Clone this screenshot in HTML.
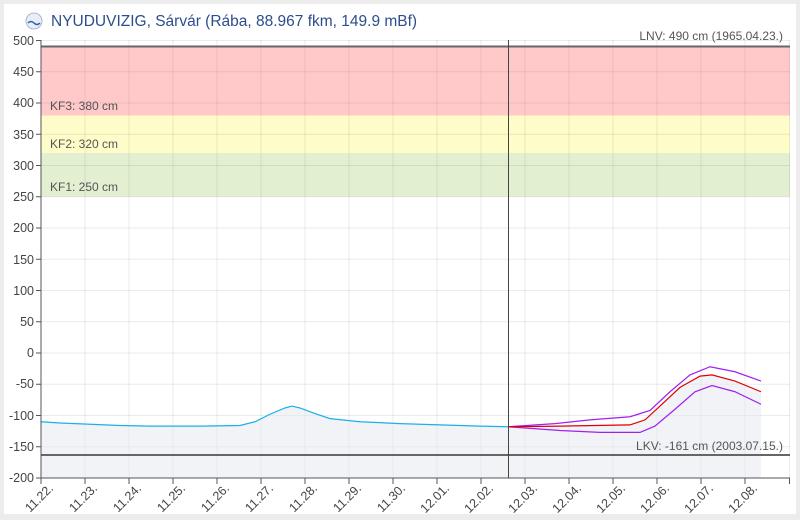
<!DOCTYPE html>
<html><head><style>
body{margin:0;background:#ececec;}
svg{display:block;font-family:"Liberation Sans",sans-serif;}
</style></head><body>
<svg width="800" height="520" xmlns="http://www.w3.org/2000/svg">
<rect x="0" y="0" width="800" height="520" fill="#ececec"/>
<rect x="4" y="4" width="792" height="510" fill="#fff"/>
<circle cx="34" cy="21" r="8" fill="#e8eef8" stroke="#9ab" stroke-width="0.8"/>
<path d="M28 23 q3 -3 6 0 q3 3 6 0" stroke="#2b5fa8" fill="none" stroke-width="1.5"/>
<text x="51" y="26" font-size="15.5" fill="#2d4d8e">NYUDUVIZIG, Sárvár (Rába, 88.967 fkm, 149.9 mBf)</text>
<rect x="41" y="46.8" width="749" height="68.7" fill="#ffc9c9"/>
<rect x="41" y="115.5" width="749" height="37.5" fill="#fefcc8"/>
<rect x="41" y="153" width="749" height="43.7" fill="#e2efd1"/>
<g stroke="#000" stroke-opacity="0.08" stroke-width="1">
<line x1="41" x2="790" y1="40.5" y2="40.5"/><line x1="41" x2="790" y1="71.75" y2="71.75"/><line x1="41" x2="790" y1="103" y2="103"/><line x1="41" x2="790" y1="134.25" y2="134.25"/><line x1="41" x2="790" y1="165.5" y2="165.5"/><line x1="41" x2="790" y1="196.75" y2="196.75"/><line x1="41" x2="790" y1="228" y2="228"/><line x1="41" x2="790" y1="259.25" y2="259.25"/><line x1="41" x2="790" y1="290.5" y2="290.5"/><line x1="41" x2="790" y1="321.75" y2="321.75"/><line x1="41" x2="790" y1="353" y2="353"/><line x1="41" x2="790" y1="384.25" y2="384.25"/><line x1="41" x2="790" y1="415.5" y2="415.5"/><line x1="41" x2="790" y1="446.75" y2="446.75"/>
<line y1="40" y2="478" x1="85" x2="85"/><line y1="40" y2="478" x1="129" x2="129"/><line y1="40" y2="478" x1="173" x2="173"/><line y1="40" y2="478" x1="217" x2="217"/><line y1="40" y2="478" x1="261" x2="261"/><line y1="40" y2="478" x1="305" x2="305"/><line y1="40" y2="478" x1="349" x2="349"/><line y1="40" y2="478" x1="393" x2="393"/><line y1="40" y2="478" x1="437" x2="437"/><line y1="40" y2="478" x1="481" x2="481"/><line y1="40" y2="478" x1="525" x2="525"/><line y1="40" y2="478" x1="569" x2="569"/><line y1="40" y2="478" x1="613" x2="613"/><line y1="40" y2="478" x1="657" x2="657"/><line y1="40" y2="478" x1="701" x2="701"/><line y1="40" y2="478" x1="745" x2="745"/><line y1="40" y2="478" x1="789.5" x2="789.5"/>
</g>
<path d="M41 421.75 L60 423 L90 424.25 L120 425.5 L150 426.1 L200 426.1 L240 425.5 L255 421.75 L270 414.25 L285 408 L292 406.1 L300 408 L315 413.6 L330 418.6 L360 421.75 L400 423.6 L440 424.9 L480 426.1 L508 426.75 L560 426.1 L630 424.9 L645 419.9 L660 406.1 L680 387.4 L700 376.1 L712 374.9 L735 381.1 L761 391.75 L761 478 L41 478 Z" fill="#e4e7f0" fill-opacity="0.5"/>
<polyline fill="none" stroke="#1ab0e8" stroke-width="1.2" points="41,421.75 60,423 90,424.25 120,425.5 150,426.1 200,426.1 240,425.5 255,421.75 270,414.25 285,408 292,406.1 300,408 315,413.6 330,418.6 360,421.75 400,423.6 440,424.9 480,426.1 508,426.75"/>
<polyline fill="none" stroke="#a020f0" stroke-width="1.2" points="508,426.75 555,423.6 590,419.9 630,416.75 650,410.5 670,391.75 690,374.9 710,366.75 735,371.75 761,381.1"/>
<polyline fill="none" stroke="#a020f0" stroke-width="1.2" points="508,426.75 560,430.5 600,432.4 640,432.4 655,426.1 675,409.25 695,391.75 712,385.5 735,391.75 761,404.25"/>
<polyline fill="none" stroke="#e00000" stroke-width="1.2" points="508,426.75 560,426.1 630,424.9 645,419.9 660,406.1 680,387.4 700,376.1 712,374.9 735,381.1 761,391.75"/>
<line x1="41" x2="790" y1="46.5" y2="46.5" stroke="#666" stroke-width="2"/>
<line x1="41" x2="790" y1="455" y2="455" stroke="#666" stroke-width="2"/>
<line x1="508.5" x2="508.5" y1="40" y2="478" stroke="#444" stroke-width="1"/>
<g font-size="12" fill="#555">
<text x="783" y="40" text-anchor="end">LNV: 490 cm (1965.04.23.)</text>
<text x="783" y="450" text-anchor="end">LKV: -161 cm (2003.07.15.)</text>
<text x="50" y="110">KF3: 380 cm</text>
<text x="50" y="148">KF2: 320 cm</text>
<text x="50" y="191">KF1: 250 cm</text>
</g>
<line x1="41" x2="41" y1="40" y2="478" stroke="#555"/>
<line x1="41" x2="790" y1="478" y2="478" stroke="#555"/>
<g stroke="#555">
<line x1="36" x2="41" y1="40.5" y2="40.5"/><line x1="36" x2="41" y1="71.75" y2="71.75"/><line x1="36" x2="41" y1="103" y2="103"/><line x1="36" x2="41" y1="134.25" y2="134.25"/><line x1="36" x2="41" y1="165.5" y2="165.5"/><line x1="36" x2="41" y1="196.75" y2="196.75"/><line x1="36" x2="41" y1="228" y2="228"/><line x1="36" x2="41" y1="259.25" y2="259.25"/><line x1="36" x2="41" y1="290.5" y2="290.5"/><line x1="36" x2="41" y1="321.75" y2="321.75"/><line x1="36" x2="41" y1="353" y2="353"/><line x1="36" x2="41" y1="384.25" y2="384.25"/><line x1="36" x2="41" y1="415.5" y2="415.5"/><line x1="36" x2="41" y1="446.75" y2="446.75"/><line x1="36" x2="41" y1="478" y2="478"/>
<line y1="478" y2="484" x1="41" x2="41"/><line y1="478" y2="484" x1="85" x2="85"/><line y1="478" y2="484" x1="129" x2="129"/><line y1="478" y2="484" x1="173" x2="173"/><line y1="478" y2="484" x1="217" x2="217"/><line y1="478" y2="484" x1="261" x2="261"/><line y1="478" y2="484" x1="305" x2="305"/><line y1="478" y2="484" x1="349" x2="349"/><line y1="478" y2="484" x1="393" x2="393"/><line y1="478" y2="484" x1="437" x2="437"/><line y1="478" y2="484" x1="481" x2="481"/><line y1="478" y2="484" x1="525" x2="525"/><line y1="478" y2="484" x1="569" x2="569"/><line y1="478" y2="484" x1="613" x2="613"/><line y1="478" y2="484" x1="657" x2="657"/><line y1="478" y2="484" x1="701" x2="701"/><line y1="478" y2="484" x1="745" x2="745"/><line y1="478" y2="484" x1="789.5" x2="789.5"/>
</g>
<g font-size="12.5" fill="#444" text-anchor="end">
<text x="34" y="45">500</text><text x="34" y="76">450</text><text x="34" y="107">400</text><text x="34" y="139">350</text><text x="34" y="170">300</text><text x="34" y="201">250</text><text x="34" y="232">200</text><text x="34" y="264">150</text><text x="34" y="295">100</text><text x="34" y="326">50</text><text x="34" y="357">0</text><text x="34" y="388">-50</text><text x="34" y="420">-100</text><text x="34" y="451">-150</text><text x="34" y="482">-200</text>
</g>
<g font-size="12.5" fill="#444" text-anchor="end">
<text transform="translate(54,489) rotate(-45)">11.22.</text>
<text transform="translate(98,489) rotate(-45)">11.23.</text>
<text transform="translate(142,489) rotate(-45)">11.24.</text>
<text transform="translate(186,489) rotate(-45)">11.25.</text>
<text transform="translate(230,489) rotate(-45)">11.26.</text>
<text transform="translate(274,489) rotate(-45)">11.27.</text>
<text transform="translate(318,489) rotate(-45)">11.28.</text>
<text transform="translate(362,489) rotate(-45)">11.29.</text>
<text transform="translate(406,489) rotate(-45)">11.30.</text>
<text transform="translate(450,489) rotate(-45)">12.01.</text>
<text transform="translate(494,489) rotate(-45)">12.02.</text>
<text transform="translate(538,489) rotate(-45)">12.03.</text>
<text transform="translate(582,489) rotate(-45)">12.04.</text>
<text transform="translate(626,489) rotate(-45)">12.05.</text>
<text transform="translate(670,489) rotate(-45)">12.06.</text>
<text transform="translate(714,489) rotate(-45)">12.07.</text>
<text transform="translate(758,489) rotate(-45)">12.08.</text>
</g>
</svg>
</body></html>
